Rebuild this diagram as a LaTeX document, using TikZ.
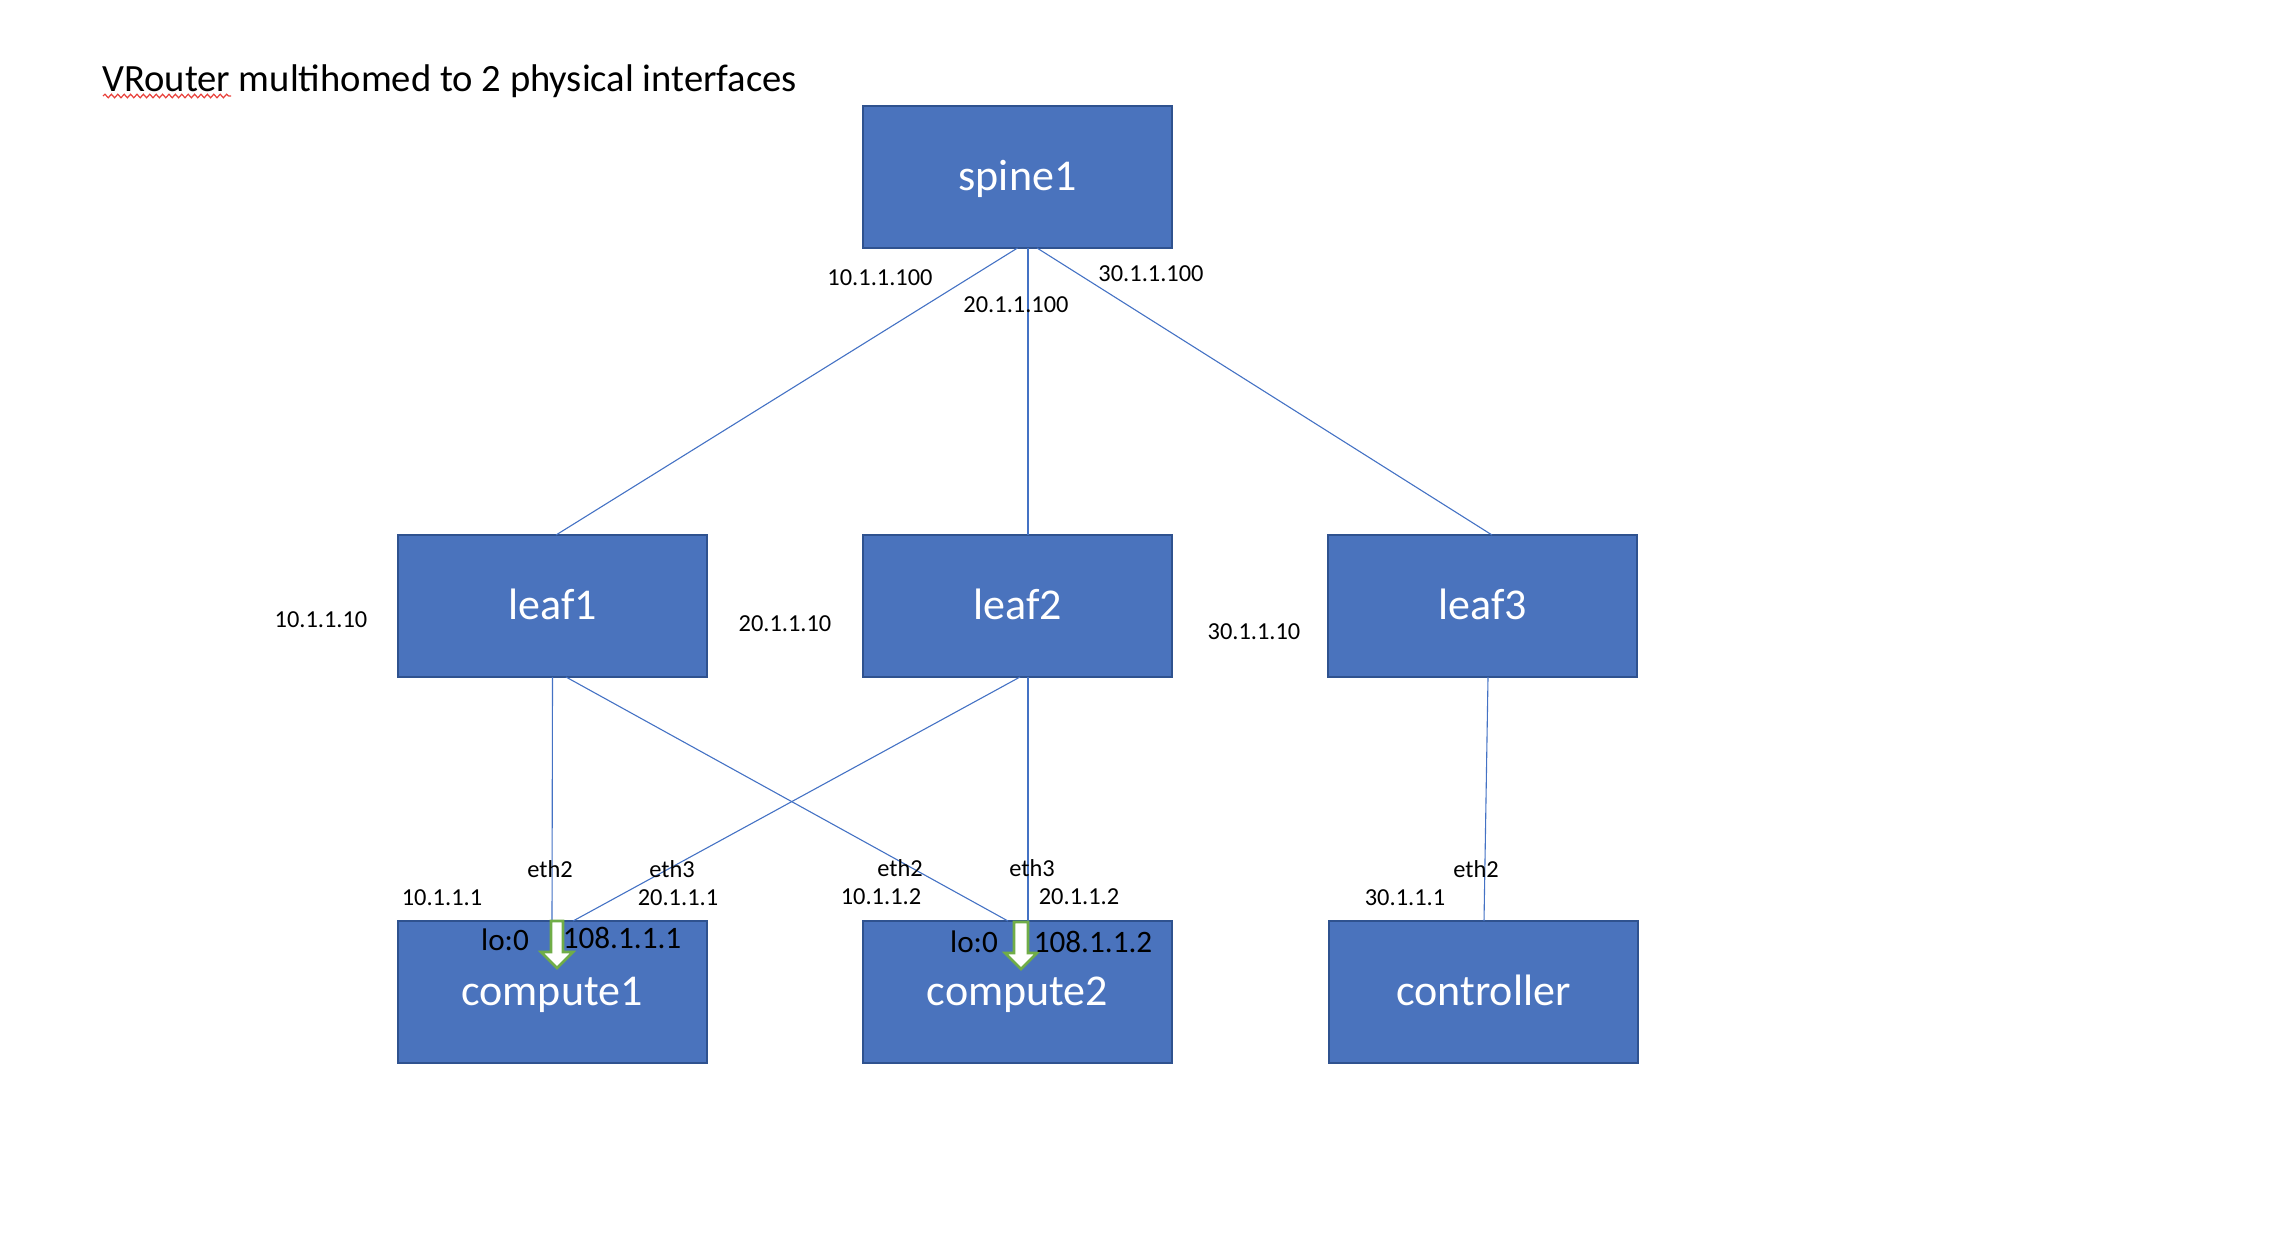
\documentclass[tikz,border=0pt]{standalone}
\usepackage{fontspec}
\setmainfont{Carlito}
\usetikzlibrary{decorations.pathmorphing}
\definecolor{boxblue}{HTML}{4A73BD}
\definecolor{boxedge}{HTML}{2F528F}
\definecolor{linkblue}{HTML}{4472C4}
\definecolor{arrgreen}{HTML}{70AD47}
\definecolor{squig}{HTML}{E8403A}
\begin{document}
\begin{tikzpicture}[x=0.5pt,y=-0.5pt,
  dev/.style={rectangle,fill=boxblue,draw=boxedge,line width=1pt,minimum width=154.5pt,minimum height=71pt,inner sep=0pt,outer sep=0pt,text=white,font=\fontsize{22}{26}\selectfont,text height=13.9pt,text depth=0pt},
  link/.style={draw=linkblue,line width=0.55pt},
  addr/.style={anchor=base,inner sep=0pt,font=\fontsize{12.2}{14}\selectfont},
  loaddr/.style={anchor=base,inner sep=0pt,font=\fontsize{15.6}{19}\selectfont},
  loarrow/.style={fill=white,draw=arrgreen,line width=1.3pt,line join=miter}]
\useasboundingbox (0,0) rectangle (2294,1238);

% title
\node[anchor=base west,inner sep=0pt,font=\fontsize{19.3}{23}\selectfont] (title) at (102,91) {VRouter multihomed to 2 physical interfaces};
\draw[squig,line width=0.6pt,decorate,decoration={snake,amplitude=0.9pt,segment length=3.2pt}] (103,96) -- (231,96);

% devices
\node[dev] (spine1) at (1017.5,177) {spine1};
\node[dev] (leaf1) at (552.5,606) {leaf1};
\node[dev] (leaf2) at (1017.5,606) {leaf2};
\node[dev] (leaf3) at (1482.5,606) {leaf3};
\node[dev] (compute1) at (552,992) {compute1};
\node[dev] (compute2) at (1017.5,992) {compute2};
\node[dev] (controller) at (1483.5,992) {controller};

% links
\draw[link] (spine1.south) -- ([xshift=1.75pt]leaf1.north);
\draw[link] ([xshift=5.25pt]spine1.south) -- ([xshift=5.25pt]leaf2.north);
\draw[link] ([xshift=9.75pt]spine1.south) -- ([xshift=4.75pt]leaf3.north);
\draw[link] (leaf1.south) -- (compute1.north);
\draw[link] ([xshift=6.75pt]leaf1.south) -- ([xshift=-4.75pt]compute2.north);
\draw[link] ([xshift=1.25pt]leaf2.south) -- ([xshift=10.5pt]compute1.north);
\draw[link] ([xshift=5.25pt]leaf2.south) -- ([xshift=5.25pt]compute2.north);
\draw[link] ([xshift=2.75pt]leaf3.south) -- ([xshift=0.25pt]controller.north);

% loopback arrows
\draw[loarrow,shift={(compute1.north)}] (-1,0) -- (11,0) -- (11,31) -- (21,31) -- (5,47) -- (-11,31) -- (-1,31) -- cycle;
\draw[loarrow,shift={(compute2.north)}] (-3.5,1) -- (10.5,1) -- (10.5,32) -- (19.5,32) -- (3.5,48) -- (-12.5,32) -- (-3.5,32) -- cycle;

% addresses
\node[addr] (a1) at (880,285) {10.1.1.100};
\node[addr] (a2) at (1016,312) {20.1.1.100};
\node[addr] (a3) at (1151,281) {30.1.1.100};
\node[addr] (a4) at (321,627) {10.1.1.10};
\node[addr] (a5) at (785,631) {20.1.1.10};
\node[addr] (a6) at (1254,639) {30.1.1.10};

\node[addr] (e1) at (550,877) {eth2};
\node[addr] (i1) at (442,905) {10.1.1.1};
\node[addr] (e2) at (672,877) {eth3};
\node[addr] (i2) at (678,905) {20.1.1.1};
\node[loaddr] (l1) at (505,950) {lo:0};
\node[loaddr] (m1) at (622,948) {108.1.1.1};

\node[addr] (e3) at (900,876) {eth2};
\node[addr] (i3) at (881,904) {10.1.1.2};
\node[addr] (e4) at (1032,876) {eth3};
\node[addr] (i4) at (1079,904) {20.1.1.2};
\node[loaddr] (l2) at (974,952) {lo:0};
\node[loaddr] (m2) at (1093,952) {108.1.1.2};

\node[addr] (e5) at (1476,877) {eth2};
\node[addr] (i5) at (1405,905) {30.1.1.1};
\end{tikzpicture}
\end{document}
